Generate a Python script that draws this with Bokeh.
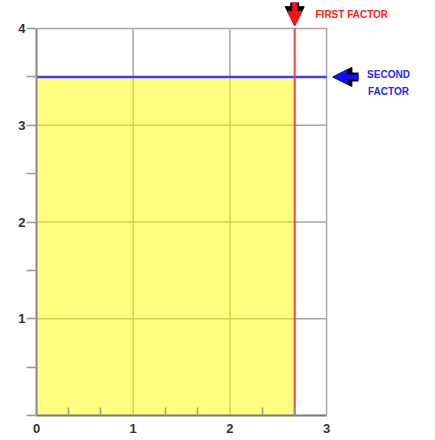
from bokeh.plotting import figure
from bokeh.models import (FixedTicker, Range1d, Arrow, NormalHead,
                          ColumnDataSource, LinearAxis)
from bokeh.core.properties import value
from bokeh.embed import file_html
from bokeh.resources import INLINE

# ---- data ----
x_ticks = [0, 1, 2, 3]
x_minor = [1/3, 2/3, 4/3, 5/3, 7/3, 8/3]
y_ticks = [0, 1, 2, 3, 4]
y_minor = [0.5, 1.5, 2.5, 3.5]
first_factor = 2.67
second_factor = 3.5
x_max = 3
y_max = 4
label_first = "FIRST FACTOR"
label_second = ["SECOND", "FACTOR"]

FONT = "Liberation Sans"

# the frame is larger than the axes so that the annotations beside the chart fit
p = figure(width=435, height=440, output_backend="svg", toolbar_location=None,
           x_range=Range1d(0, 4.126), y_range=Range1d(0, 4.29),
           x_axis_type=None, y_axis_type=None,
           min_border_left=36, min_border_right=0, min_border_top=0,
           min_border_bottom=25)
p.background_fill_color = "white"
p.border_fill_color = "white"
p.outline_line_color = None
p.xgrid.visible = False
p.ygrid.visible = False

# grid lines (including frame border at x_max / y_max)
gx = [t for t in x_ticks if t > 0]
gy = [t for t in y_ticks if t > 0]
p.segment(x0=gx, y0=[0] * len(gx), x1=gx, y1=[y_max] * len(gx),
          line_color="#a8a8a8", line_width=1.5)
p.segment(x0=[0] * len(gy), y0=gy, x1=[x_max] * len(gy), y1=gy,
          line_color="#a8a8a8", line_width=1.5)

xaxis = LinearAxis(ticker=FixedTicker(ticks=x_ticks, minor_ticks=x_minor),
                   bounds=(0, x_max))
xaxis.major_tick_out = 0
xaxis.major_tick_in = 0
xaxis.minor_tick_in = 8
xaxis.minor_tick_out = 0
xaxis.minor_tick_line_color = "#999999"
xaxis.minor_tick_line_width = 1.5
xaxis.axis_line_color = "#777777"
xaxis.axis_line_width = 2
xaxis.major_label_standoff = 8
xaxis.major_label_text_font = FONT
xaxis.major_label_text_font_style = "bold"
xaxis.major_label_text_font_size = "13px"
xaxis.major_label_text_color = "#333333"
p.add_layout(xaxis, "below")

yaxis = LinearAxis(ticker=FixedTicker(ticks=y_ticks, minor_ticks=y_minor),
                   bounds=(0, y_max))
yaxis.major_tick_out = 10
yaxis.major_tick_in = 0
yaxis.minor_tick_out = 10
yaxis.minor_tick_in = 0
yaxis.major_tick_line_color = "#999999"
yaxis.minor_tick_line_color = "#999999"
yaxis.major_tick_line_width = 1.5
yaxis.minor_tick_line_width = 1.5
yaxis.axis_line_color = "#888888"
yaxis.axis_line_width = 2
yaxis.major_label_standoff = 1
yaxis.major_label_overrides = {0: ""}
yaxis.major_label_text_font = FONT
yaxis.major_label_text_font_style = "bold"
yaxis.major_label_text_font_size = "13px"
yaxis.major_label_text_color = "#333333"
yaxis.major_label_text_baseline = "alphabetic"
p.add_layout(yaxis, "left")

# yellow region
src = ColumnDataSource(dict(left=[0], right=[first_factor], bottom=[0], top=[second_factor]))
p.quad(left="left", right="right", bottom="bottom", top="top", source=src,
       fill_color="#ffff00", fill_alpha=0.5, line_color=None)

# factor lines
p.segment(x0=[0], y0=[second_factor], x1=[x_max], y1=[second_factor],
          line_color="#4040f8", line_width=2.5)
p.segment(x0=[first_factor], y0=[0], x1=[first_factor], y1=[y_max],
          line_color="#f84040", line_width=2)

# block arrows (black outline under coloured arrow)
def block_arrow(xs, ys, xe, ye, color):
    p.add_layout(Arrow(x_start=xs, y_start=ys, x_end=xe, y_end=ye,
                       line_color="black", line_width=9,
                       end=NormalHead(size=19, fill_color="black", line_color="black",
                                      line_width=1)))
    p.add_layout(Arrow(x_start=xs, y_start=ys, x_end=xe, y_end=ye,
                       line_color=color, line_width=5,
                       end=NormalHead(size=14, fill_color=color, line_color=color,
                                      line_width=1)))

block_arrow(first_factor, 4.27, first_factor, 4.03, "#ff1010")
block_arrow(3.33, second_factor, 3.065, second_factor, "#1010ff")

p.text(x=[2.885], y=[4.145], text=[label_first], text_color="#ff2020",
       text_font=value(FONT), text_font_style="bold", text_font_size="10px",
       text_baseline="middle", text_align="left")
p.text(x=[3.64, 3.64], y=[3.53, 3.345], text=label_second, text_color="#2828ff",
       text_font=value(FONT), text_font_style="bold", text_font_size="10px",
       text_baseline="middle", text_align="center")

open("out.html", "w").write(file_html(p, INLINE))
